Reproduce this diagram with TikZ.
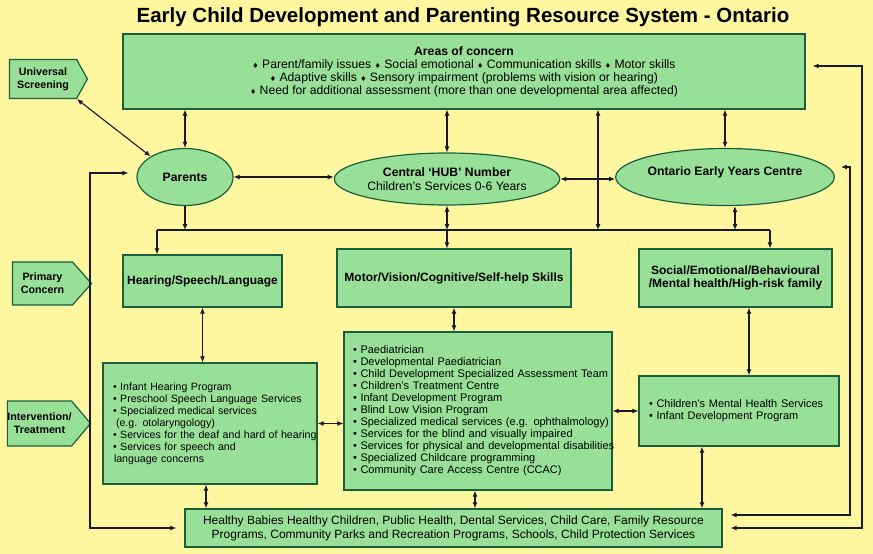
\documentclass[tikz,border=0pt]{standalone}
\usepackage{fontspec}
\setmainfont{Liberation Sans}
\newfontfamily\symfont{DejaVu Sans}
\usepackage{xcolor}
\usetikzlibrary{shapes,shapes.geometric,shapes.symbols,arrows.meta,positioning,calc}
\definecolor{bgyellow}{RGB}{255,246,160}
\definecolor{boxgreen}{RGB}{152,224,152}
\definecolor{boxedge}{RGB}{25,95,60}
\definecolor{linedark}{RGB}{25,25,45}
\newcommand{\dmd}{{\symfont\fontsize{7}{7}\selectfont ♦}}
\newcommand{\itm}[1]{\mbox{• #1}}
\tikzset{
  box/.style={rectangle, draw=boxedge, fill=boxgreen, line width=1.2pt,
    inner sep=0pt, align=center, text=black},
  listbox/.style={box, align=left, inner xsep=10pt,
    font=\fontsize{11}{12}\selectfont},
  headbox/.style={box, font=\bfseries\fontsize{12}{13}\selectfont},
  oval/.style={ellipse, draw=boxedge, fill=boxgreen, line width=1.2pt,
    inner sep=0pt, align=center, font=\fontsize{12.2}{14}\selectfont},
  tag/.style={signal, signal to=east, draw=boxedge, fill=boxgreen,
    line width=1.2pt, inner sep=0pt, align=center,
    font=\bfseries\fontsize{10.7}{13}\selectfont},
  arr/.style={-{Latex[length=6pt,width=5pt]}, line width=1.1pt, color=linedark},
  dblarr/.style={{Latex[length=6pt,width=5pt]}-{Latex[length=6pt,width=5pt]},
    line width=1.1pt, color=linedark},
  busline/.style={line width=1.1pt, color=linedark}
}

\begin{document}
\begin{tikzpicture}[x=1pt, y=-1pt]
\fill[bgyellow] (0,0) rectangle (873,554);
\useasboundingbox (0,0) rectangle (873,554);

\node[font=\bfseries\fontsize{20.5}{22}\selectfont] (title) at (463,17)
  {Early Child Development and Parenting Resource System - Ontario};

\node[box, minimum width=682pt, minimum height=75pt,
  font=\fontsize{12.2}{13}\selectfont] (concern) at (464,71.5)
  {\textbf{Areas of concern}\\
   \dmd\ Parent/family issues \dmd\ Social emotional \dmd\ Communication skills \dmd\ Motor skills\\
   \dmd\ Adaptive skills \dmd\ Sensory impairment (problems with vision or hearing)\\
   \dmd\ Need for additional assessment (more than one developmental area affected)};

%% side tags
\node[tag, minimum width=78pt, minimum height=39pt, signal pointer angle=122]
  (univ) at (43,79) {Universal\\Screening};
\node[tag, minimum width=79pt, minimum height=43pt, signal pointer angle=97]
  (primary) at (42.5,283.5) {Primary\\Concern};
\node[tag, minimum width=73pt, minimum height=45pt, signal pointer angle=100]
  (interv) at (39.5,423.5) {Intervention/\\Treatment};

%% ovals
\node[oval, minimum width=96pt, minimum height=57pt] (parents) at (185,177)
  {\textbf{Parents}};
\node[oval, minimum width=220pt, minimum height=52pt] (hub) at (447,179)
  {\textbf{Central ‘HUB’ Number}\\Children’s Services 0-6 Years};
\node[oval, minimum width=174pt, minimum height=57pt] (oeyc) at (725,177)
  {\raisebox{11pt}{\textbf{Ontario Early Years Centre}}};

%% primary concern boxes
\node[headbox, minimum width=159pt, minimum height=52pt] (hear) at (202.5,281)
  {Hearing/Speech/Language};
\node[headbox, minimum width=234pt, minimum height=58pt] (motor) at (454,278)
  {Motor/Vision/Cognitive/Self-help Skills};
\node[headbox, minimum width=193pt, minimum height=58pt] (social) at (735.5,278)
  {Social/Emotional/Behavioural\\/Mental health/High-risk family};

%% intervention lists
\node[listbox, minimum width=214pt, text width=194pt, minimum height=121pt,
  font=\fontsize{10.6}{12}\selectfont] (hearlist) at (210,423.5)
  {\itm{Infant Hearing Program}\\
   \itm{Preschool Speech Language Services}\\
   \itm{Specialized medical services}\\
   \hspace*{3pt}(e.g. otolaryngology)\\
   \itm{Services for the deaf and hard of hearing}\\
   \itm{Services for speech and}\\
   \hspace*{1pt}language concerns};
\node[listbox, minimum width=268pt, text width=250pt, minimum height=158pt,
  inner xsep=9pt] (motorlist) at (478,411)
  {\itm{Paediatrician}\\
   \itm{Developmental Paediatrician}\\
   \itm{Child Development Specialized Assessment Team}\\
   \itm{Children’s Treatment Centre}\\
   \itm{Infant Development Program}\\
   \itm{Blind Low Vision Program}\\
   \itm{Specialized medical services (e.g. ophthalmology)}\\
   \itm{Services for the blind and visually impaired}\\
   \itm{Services for physical and developmental disabilities}\\
   \itm{Specialized Childcare programming}\\
   \itm{Community Care Access Centre (CCAC)}};
\node[listbox, minimum width=200pt, text width=180pt, minimum height=70pt]
  (sociallist) at (739,411)
  {\itm{Children’s Mental Health Services}\\
   \itm{Infant Development Program}};

\node[box, minimum width=537pt, minimum height=38pt,
  font=\fontsize{12}{14}\selectfont] (bottom) at (453.5,528)
  {Healthy Babies Healthy Children, Public Health, Dental Services, Child Care, Family Resource\\
   Programs, Community Parks and Recreation Programs, Schools, Child Protection Services};

\coordinate (busL) at (157,230);
\coordinate (busR) at (770,230);
\coordinate (busM) at (598,230);
\coordinate (fbL) at (90,300);
\coordinate (fbRa) at (850,300);
\coordinate (fbRb) at (862,300);

%% top level
\draw[dblarr] (univ.south east) -- (parents.north west);
\draw[dblarr] (concern.south -| parents.north) -- (parents.north);
\draw[dblarr] (concern.south -| hub.north) -- (hub.north);
\draw[dblarr] (concern.south -| busM) -- (busM);
\draw[dblarr] (concern.south -| oeyc.north) -- (oeyc.north);
\draw[dblarr] (parents.east) -- (parents.east -| hub.west);
\draw[dblarr] (hub.east) -- (hub.east -| oeyc.west);

%% bus to primary concern
\draw[busline] (busL) -- (busR);
\draw[arr] (parents.south) -- (parents.south |- busL);
\draw[dblarr] (hub.south) -- (hub.south |- busL);
\draw[dblarr] ([xshift=10pt]oeyc.south) -- ([xshift=10pt]oeyc.south |- busL);
\draw[arr] (busL) -- (busL |- hear.north);
\draw[arr] (hub.south |- busL) -- (hub.south |- motor.north);
\draw[arr] (busR) -- (busR |- social.north);

%% primary concern to intervention
\draw[dblarr] (hear.south) -- (hear.south |- hearlist.north);
\draw[dblarr] (motor.south) -- (motor.south |- motorlist.north);
\draw[dblarr] ([xshift=13.5pt]social.south) -- ([xshift=13.5pt]social.south |- sociallist.north);
\draw[dblarr] (hearlist.east) -- (hearlist.east -| motorlist.west);
\draw[dblarr] (sociallist.west -| motorlist.east) -- (sociallist.west);

%% intervention to community
\draw[dblarr] ([xshift=-4pt]hearlist.south) -- ([xshift=-4pt]hearlist.south |- bottom.north);
\draw[dblarr] ([xshift=-3pt]motorlist.south) -- ([xshift=-3pt]motorlist.south |- bottom.north);
\draw[dblarr] ([xshift=-37pt]sociallist.south) -- ([xshift=-37pt]sociallist.south |- bottom.north);

%% feedback loops
\draw[dblarr, shorten <=8pt, shorten >=8pt] ([yshift=4pt]parents.west) -| (fbL) |- (bottom.west);
\draw[dblarr, shorten <=6pt, shorten >=8pt] ([yshift=10pt]oeyc.east) -| (fbRa) |- ([yshift=13pt]bottom.east);
\draw[dblarr, shorten <=7pt, shorten >=8pt] ([yshift=5.5pt]concern.east) -| (fbRb) |- (bottom.east);

\end{tikzpicture}
\end{document}
